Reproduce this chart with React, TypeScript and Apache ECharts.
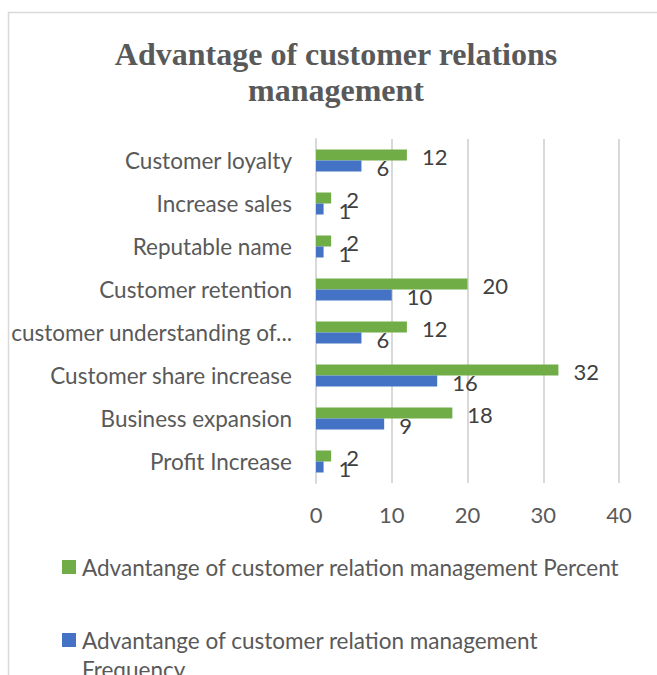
import React, { useEffect, useRef } from "react";
import * as echarts from "echarts";

const categories = [
  "Profit Increase",
  "Business expansion",
  "Customer share increase",
  "customer understanding of...",
  "Customer retention",
  "Reputable name",
  "Increase sales",
  "Customer loyalty",
];
const frequencyValues = [1, 9, 16, 6, 10, 1, 1, 6];
const percentValues = [2, 18, 32, 12, 20, 2, 2, 12];
const xTicks = { min: 0, max: 40, interval: 10 };
const percentName = "Advantange of customer relation management Percent";
const frequencyName = "Advantange of customer relation management Frequency";
const titleText = "Advantage of customer relations\nmanagement";

const FONT = "Lato, 'Liberation Sans', sans-serif";
const FS = 22;
const FS_TEXT = 22.5;

export default function App() {
  const ref = useRef<HTMLDivElement>(null);
  useEffect(() => {
    if (!ref.current) return;
    const chart = echarts.init(ref.current, null, { renderer: "svg" });
    const labelStyle = {
      show: true,
      position: "right" as const,
      distance: 15,
      offset: [0, 1],
      color: "#404040",
      fontFamily: FONT,
      fontSize: FS,
    };
    chart.setOption({
      animation: false,
      backgroundColor: "#ffffff",
      title: {
        text: titleText,
        left: 331,
        top: 31,
        textAlign: "center",
        textStyle: {
          fontFamily: "'Liberation Serif', 'Times New Roman', serif",
          fontWeight: "bold",
          fontSize: 32,
          lineHeight: 36,
          color: "#595959",
        },
      },
      grid: { left: 316, right: 38, top: 139, bottom: 192, containLabel: false },
      xAxis: {
        type: "value",
        min: xTicks.min,
        max: xTicks.max,
        interval: xTicks.interval,
        axisLine: { show: false },
        axisTick: { show: false },
        splitLine: { show: true, lineStyle: { color: "#d9d9d9", width: 2 } },
        axisLabel: {
          margin: 20,
          color: "#595959",
          fontFamily: FONT,
          fontSize: FS,
        },
      },
      yAxis: {
        type: "category",
        data: categories,
        axisLine: { show: true, lineStyle: { color: "#d9d9d9", width: 2 } },
        axisTick: { show: false },
        axisLabel: {
          margin: 24,
          color: "#595959",
          fontFamily: FONT,
          fontSize: FS_TEXT,
        },
      },
      series: [
        {
          name: percentName,
          type: "bar",
          data: percentValues,
          barWidth: 11,
          barGap: "0%",
          itemStyle: { color: "#70ad47" },
          label: labelStyle,
        },
        {
          name: frequencyName,
          type: "bar",
          data: frequencyValues,
          barWidth: 11,
          barGap: "0%",
          itemStyle: { color: "#4472c4" },
          label: labelStyle,
        },
      ],
      graphic: [
        {
          type: "rect",
          shape: { x: 8.5, y: 12.5, width: 700, height: 700 },
          style: { fill: "none", stroke: "#d9d9d9", lineWidth: 1.5 },
          silent: true,
        },
        {
          type: "rect",
          shape: { x: 62, y: 560, width: 14, height: 14 },
          style: { fill: "#70ad47" },
        },
        {
          type: "text",
          x: 82,
          y: 567,
          style: {
            text: percentName,
            fill: "#595959",
            font: `${FS_TEXT}px ${FONT}`,
            verticalAlign: "middle",
          },
        },
        {
          type: "rect",
          shape: { x: 62, y: 633, width: 14, height: 14 },
          style: { fill: "#4472c4" },
        },
        {
          type: "text",
          x: 82,
          y: 626,
          style: {
            text: "Advantange of customer relation management\nFrequency",
            fill: "#595959",
            font: `${FS_TEXT}px ${FONT}`,
            lineHeight: 29,
            verticalAlign: "top",
          },
        },
      ],
    });
    return () => chart.dispose();
  }, []);
  return (
    <div
      ref={ref}
      style={{ position: "fixed", left: 0, top: 0, width: 657, height: 675 }}
    />
  );
}
